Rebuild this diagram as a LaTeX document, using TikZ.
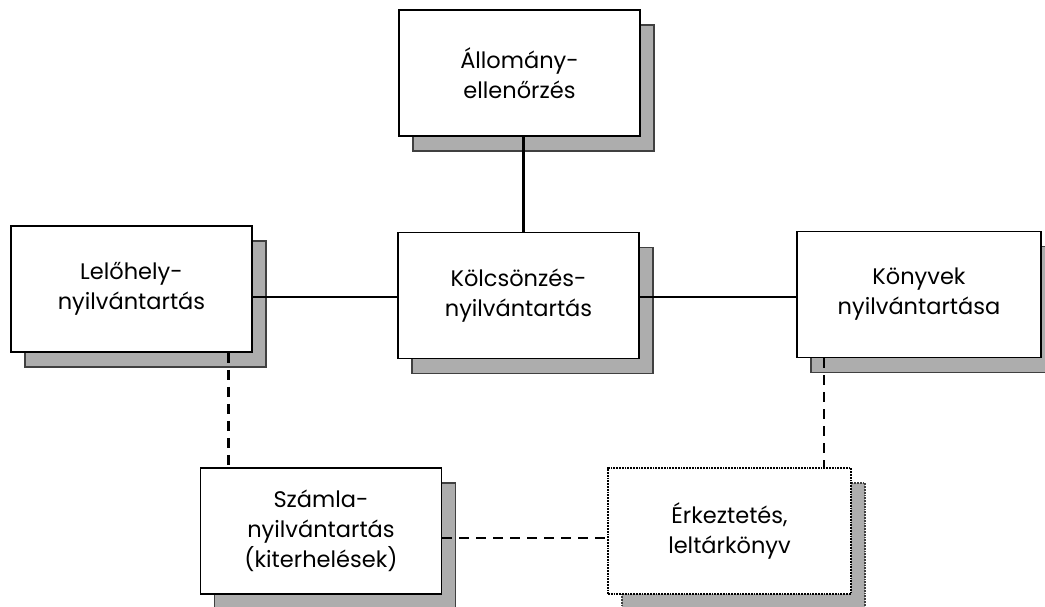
\documentclass[tikz,border=0pt]{standalone}
\usepackage{fontspec}
\setmainfont{Poppins}
\usetikzlibrary{shadows}
\begin{document}
\begin{tikzpicture}[x=1pt,y=-1pt,
  box/.style={draw=black, line width=1.8pt, fill=white, minimum width=241pt, minimum height=126pt,
    align=center, font=\fontsize{22.5}{30}\selectfont, inner sep=0pt,
    general shadow={shadow xshift=14pt, shadow yshift=-15pt, fill=black!32, draw=black!75, line width=1.4pt}},
  dotbox/.style={box, draw=black, densely dotted, line width=1.5pt},
  link/.style={line width=2.7pt},
  dlink/.style={line width=2.8pt, dash pattern=on 10pt off 7pt}]
\useasboundingbox (0,0) rectangle (1045,606);
\node[box] (allo) at (519.5,73) {Állomány-\\ellenőrzés};
\node[box] (lelo) at (131.5,289) {Lelőhely-\\nyilvántartás};
\node[box] (kolcs) at (518.5,295.5) {Kölcsönzés-\\nyilvántartás};
\node[box, minimum width=244pt] (konyv) at (919,294.5) {Könyvek\\nyilvántartása};
\node[box] (szamla) at (321,531) {Számla-\\nyilvántartás\\(kiterhelések)};
\node[dotbox, minimum width=243pt] (erk) at (729.5,531) {Érkeztetés,\\leltárkönyv};
\draw[link] ([xshift=4pt]allo.south) -- ([xshift=4pt]allo.south |- kolcs.north);
\draw[link] ([yshift=-1.5pt]lelo.east |- kolcs.west) -- ([yshift=-1.5pt]kolcs.west);
\draw[link] ([yshift=-1.5pt]kolcs.east) -- ([yshift=-1.5pt]konyv.west |- kolcs.east);
\draw[dlink] ([xshift=97pt]lelo.south) -- ([xshift=97pt]lelo.south |- szamla.north);
\draw[dlink] ([xshift=-95pt]konyv.south) -- ([xshift=-95pt]konyv.south |- erk.north);
\draw[dlink] ([yshift=-7pt]szamla.east) -- ([yshift=-7pt]erk.west);
\end{tikzpicture}
\end{document}
